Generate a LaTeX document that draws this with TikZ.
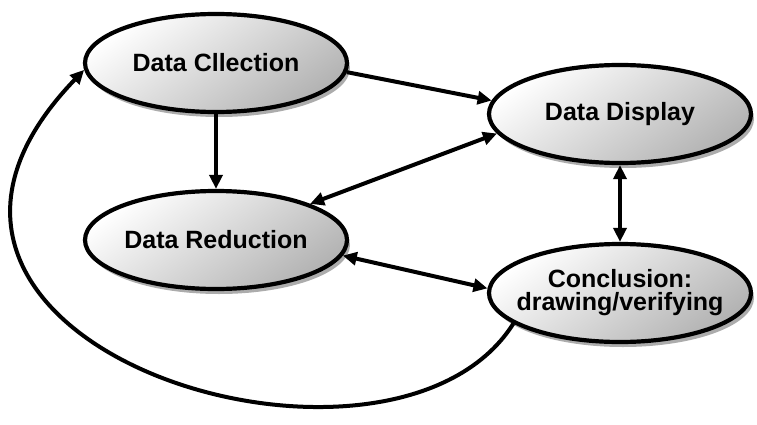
\documentclass[tikz,border=0pt]{standalone}
\usepackage{fontspec}
\setmainfont{Liberation Sans}
\usetikzlibrary{shapes.geometric,arrows.meta,shadows}
\tikzset{
    data-ellipse/.style = {ellipse, draw=black, line width=4.2pt, minimum width=262pt, minimum height=98pt, inner sep=0pt,
        top color=white, bottom color=gray!60, shading angle=35,
        drop shadow={shadow xshift=3pt, shadow yshift=-5pt, fill=gray!65, opacity=1},
        font=\fontsize{25}{23}\selectfont\bfseries, align=center},
    flow-arrow/.style = {line width=4pt, -{Triangle[length=14pt, width=13pt]}},
    both-arrow/.style = {line width=4pt, {Triangle[length=14pt, width=13pt]}-{Triangle[length=14pt, width=13pt]}},
}
\begin{document}
\begin{tikzpicture}[x=1pt, y=1pt]
\useasboundingbox (0,0) rectangle (757,424);
\node [data-ellipse] (collect) at (216,361) {Data Cllection};
\node [data-ellipse] (display) at (620,310) {Data Display};
\node [data-ellipse] (reduce) at (216,184) {Data Reduction};
\node [data-ellipse, inner xsep=-15pt, inner ysep=-8pt] (conclude) at (620,131) {Conclusion:\\drawing/verifying};
\draw [flow-arrow] (collect.-4) -- (display.174);
\draw [flow-arrow] (collect.south) -- (reduce.north);
\draw [both-arrow] (display.189) -- (reduce.21);
\draw [both-arrow] (display.south) -- (conclude.north);
\draw [both-arrow] (reduce.-7) -- (conclude.178);
\draw [flow-arrow] (conclude.196) .. controls (390,-95) and (-180,80) .. (collect.183);
\end{tikzpicture}
\end{document}
